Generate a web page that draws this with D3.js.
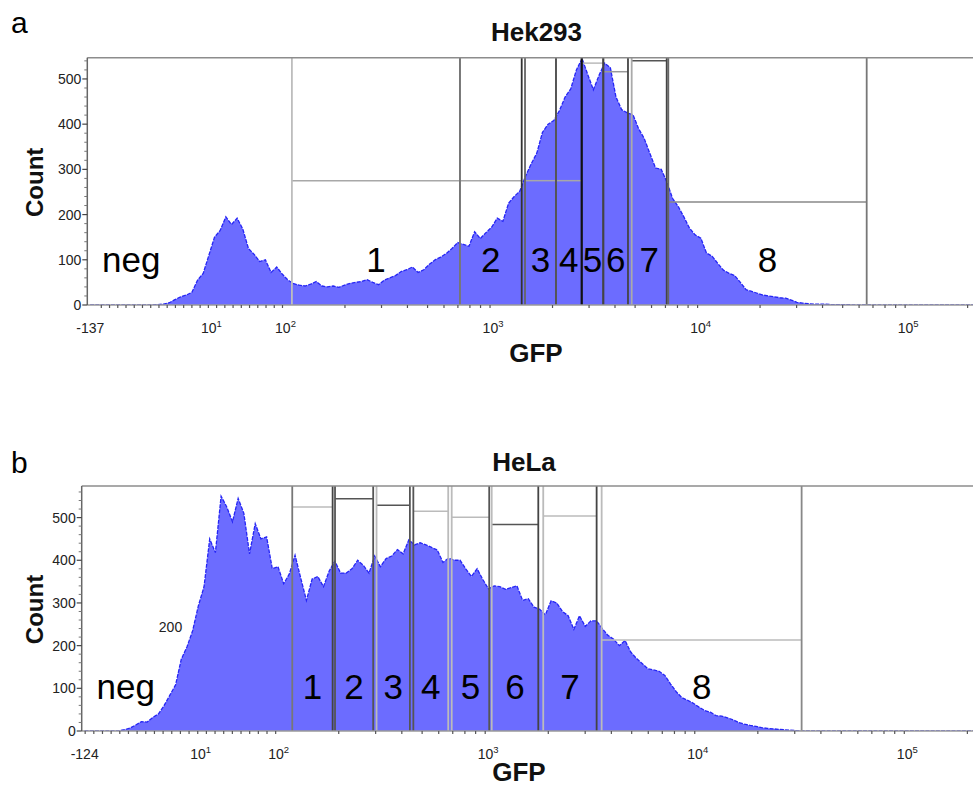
<!DOCTYPE html>
<html>
<head>
<meta charset="utf-8">
<script src="https://cdn.jsdelivr.net/npm/d3@7"></script>
<style>
  body { margin: 0; background: #fff; }
  svg { display: block; }
  text { font-family: "Liberation Sans", Arial, Helvetica, sans-serif; }
</style>
</head>
<body>
<svg id="chart" width="973" height="787"></svg>
<script>
// Histogram bins: 160 equal-width bins across the displayed GFP axis.
const BINS = 160;

// Hek293: events per bin
const hekCounts = [
  0,0,0,0,0,0,0,0,0,0,0,0,
  1,2,5,12,18,22,28,55,70,110,150,165,195,178,192,168,125,112,96,100,
  72,84,68,55,47,44,42,46,52,42,40,42,39,44,48,50,52,56,50,45,
  55,60,65,74,78,84,72,78,90,100,106,114,125,138,134,130,162,147,160,172,
  192,185,225,240,252,285,312,336,382,400,408,430,460,478,520,545,510,476,508,535,
  525,460,432,425,421,390,368,335,303,300,272,236,218,195,170,155,148,115,108,92,
  77,70,65,50,34,30,26,22,20,18,16,15,11,6,4,3,2,2,2,1,
  1,1,1,
  0,0,0,0,0,0,0,0,0,0,0,0,0,0,0,0,0,0,0,0,0,0,0,0,0
];

// HeLa: events per bin
const helaCounts = [
  0,0,0,0,0,0,0,
  3,7,14,22,21,32,40,60,84,108,168,197,235,293,338,450,418,550,525,490,
  545,510,415,486,450,455,380,385,345,368,412,358,306,356,362,338,375,398,370,370,
  380,400,388,370,410,385,404,410,425,415,448,436,441,436,430,424,395,405,400,400,
  380,362,380,355,333,340,338,332,336,340,306,310,290,285,272,305,300,280,270,238,
  270,245,258,258,240,224,215,200,212,185,170,158,146,143,140,130,110,92,78,72,
  65,56,48,44,36,35,31,26,20,16,13,11,8,6,5,4,3,2,1,
  0,0,0,0,0,0,0,0,0,0,0,0,0,0,0,0,0,0,0,0,0,0,0,0,0,0,0,0,0,0,0,0,0,0
];

// Axis extents (GFP) and count maxima
const hekRange = [-137, 262144];
const helaRange = [-124, 262144];
const hekYMax = 547;
const helaYMax = 574;
const countTicks = [0, 100, 200, 300, 400, 500];
const decadeExponents = [1, 2, 3, 4, 5];

// Range gates (GFP bounds) and the count level each gate bar is drawn at
const gateNames = ["1", "2", "3", "4", "5", "6", "7", "8"];
const hekGateLo = [111, 716, 1474, 2078, 2764, 3513, 4814, 7226];
const hekGateHi = [716, 1421, 2078, 2764, 3513, 4620, 7099, 65280];
const hekGateLevel = [275, 275, 275, 275, 535, 516, 540, 228];

const helaGateLo = [120, 192, 303, 454, 692, 1074, 1892, 3595];
const helaGateHi = [187, 292, 437, 666, 1045, 1792, 3402, 32360];
const helaGateLevel = [525, 544, 529, 515, 501, 484, 504, 213];

// ---- drawing ----
const svg = d3.select("#chart");
const FONT_FILL = "#111";

// biexponential-style display: linear around zero, logarithmic above 100
function displayPos(v, linUnits) {
  return v >= 100 ? Math.log10(v) : 2 + (v - 100) / linUnits;
}

function drawPanel(cfg) {
  const g = svg.append("g");
  const d0 = displayPos(cfg.range[0], cfg.lin);
  const d1 = displayPos(cfg.range[1], cfg.lin);
  const toBin = v => BINS * (displayPos(v, cfg.lin) - d0) / (d1 - d0);

  const x = d3.scaleLinear().domain([0, BINS]).range([cfg.left, cfg.right]);
  const gx = v => x(toBin(v));
  const y = d3.scaleLinear().domain([0, cfg.yMax]).range([cfg.bottom, cfg.top]);

  const clipId = "clip-" + cfg.id;
  g.append("clipPath").attr("id", clipId)
    .append("rect")
    .attr("x", cfg.left).attr("y", cfg.top - 2)
    .attr("width", cfg.right - cfg.left).attr("height", cfg.bottom - cfg.top + 2);

  const pts = cfg.counts.map((c, i) => ({ bin: i + 0.5, c }));
  const area = d3.area().x(d => x(d.bin)).y0(y(0)).y1(d => y(d.c));
  const line = d3.line().x(d => x(d.bin)).y(d => y(d.c));

  const hist = g.append("g").attr("clip-path", `url(#${clipId})`);
  hist.append("path").datum(pts)
    .attr("d", area)
    .attr("fill", "#6c6cff");
  hist.append("path").datum(pts)
    .attr("d", line)
    .attr("fill", "none")
    .attr("stroke", "#2626f5")
    .attr("stroke-width", 1.3)
    .attr("stroke-dasharray", "4 1.2");

  // gates: full-height edges plus a bar at the gate level
  const gates = gateNames.map((name, i) => ({
    name, lo: cfg.gateLo[i], hi: cfg.gateHi[i], level: cfg.gateLevel[i], i
  }));
  const gateLayer = g.append("g");
  gates.forEach(gt => {
    gateLayer.append("line")
      .attr("x1", gx(gt.lo)).attr("x2", gx(gt.hi))
      .attr("y1", y(gt.level)).attr("y2", y(gt.level))
      .attr("stroke", cfg.barShade[gt.i]).attr("stroke-width", 1.5);
  });
  gates.forEach(gt => {
    [[gt.lo, cfg.edgeShade[gt.i][0]], [gt.hi, cfg.edgeShade[gt.i][1]]].forEach(([v, col]) => {
      gateLayer.append("line")
        .attr("x1", gx(v)).attr("x2", gx(v))
        .attr("y1", cfg.top).attr("y2", cfg.bottom)
        .attr("stroke", col).attr("stroke-width", 1.8);
    });
  });

  // frame
  g.append("line").attr("x1", cfg.left).attr("x2", cfg.right)
    .attr("y1", cfg.top).attr("y2", cfg.top)
    .attr("stroke", "#8c8c8c").attr("stroke-width", 1.5);
  g.append("line").attr("x1", cfg.left).attr("x2", cfg.right)
    .attr("y1", cfg.bottom).attr("y2", cfg.bottom)
    .attr("stroke", "#9a9a9a").attr("stroke-width", 1.5);

  // count axis
  const minor = d3.range(0, cfg.yMax + 1, 20).filter(v => v % 100 !== 0);
  const yAxis = g.append("g");
  yAxis.append("line").attr("x1", cfg.left).attr("x2", cfg.left)
    .attr("y1", cfg.top).attr("y2", cfg.bottom)
    .attr("stroke", "#666").attr("stroke-width", 1.5);
  yAxis.selectAll(".ymin").data(minor).join("line")
    .attr("x1", cfg.left - 3).attr("x2", cfg.left)
    .attr("y1", d => y(d)).attr("y2", d => y(d))
    .attr("stroke", "#777").attr("stroke-width", 1);
  yAxis.selectAll(".ymaj").data(countTicks).join("line")
    .attr("x1", cfg.left - 5).attr("x2", cfg.left)
    .attr("y1", d => y(d)).attr("y2", d => y(d))
    .attr("stroke", "#444").attr("stroke-width", 1.2);
  yAxis.selectAll(".ylab").data(countTicks).join("text")
    .attr("x", cfg.left - 6).attr("y", d => y(d))
    .attr("dy", "0.36em")
    .attr("text-anchor", "end")
    .attr("font-size", 14)
    .attr("fill", "#222")
    .text(d => d);

  // GFP axis ticks
  const linTicks = d3.range(-120, 100, 10).filter(v => v > cfg.range[0]);
  const logTicks = [];
  [2, 3, 4, 5].forEach(k => {
    for (let m = 1; m <= 9; m++) {
      const v = m * Math.pow(10, k);
      if (v < cfg.range[1]) logTicks.push(v);
    }
  });
  const xAxis = g.append("g");
  xAxis.selectAll(".xmin").data(linTicks.concat(logTicks)).join("line")
    .attr("x1", d => gx(d)).attr("x2", d => gx(d))
    .attr("y1", cfg.bottom).attr("y2", cfg.bottom + 3)
    .attr("stroke", "#555").attr("stroke-width", 1.2);

  const labelY = cfg.bottom + 28;
  xAxis.append("text")
    .attr("x", cfg.left + 3).attr("y", labelY)
    .attr("text-anchor", "middle").attr("font-size", 14).attr("fill", "#222")
    .text(String(cfg.range[0]));
  const dec = xAxis.selectAll(".xlab").data(decadeExponents).join("text")
    .attr("x", d => gx(Math.pow(10, d)) + 3).attr("y", labelY)
    .attr("text-anchor", "middle").attr("font-size", 14).attr("fill", "#222");
  dec.append("tspan").text("10");
  dec.append("tspan").attr("font-size", 9.5).attr("dy", -6).text(d => d);

  // gate names and the negative region
  g.selectAll(".gname").data(gates).join("text")
    .attr("x", d => x((toBin(d.lo) + toBin(d.hi)) / 2))
    .attr("y", cfg.nameBaseline)
    .attr("text-anchor", "middle")
    .attr("font-size", 35)
    .attr("fill", "#000")
    .text(d => d.name);
  g.append("text")
    .attr("x", cfg.left + 44).attr("y", cfg.nameBaseline)
    .attr("text-anchor", "middle").attr("font-size", 35).attr("fill", "#000")
    .text("neg");

  // titles
  g.append("text").attr("x", cfg.titleX).attr("y", cfg.titleY)
    .attr("text-anchor", "middle").attr("font-size", 26).attr("font-weight", "bold")
    .attr("fill", FONT_FILL).text(cfg.title);
  g.append("text").attr("x", cfg.gfpX).attr("y", cfg.gfpY)
    .attr("text-anchor", "middle").attr("font-size", 26).attr("font-weight", "bold")
    .attr("fill", FONT_FILL).text("GFP");
  g.append("text")
    .attr("transform", `translate(${42.5},${(cfg.top + cfg.bottom) / 2 + 1}) rotate(-90)`)
    .attr("text-anchor", "middle").attr("font-size", 24).attr("font-weight", "bold")
    .attr("fill", FONT_FILL).text("Count");
  g.append("text").attr("x", 11).attr("y", cfg.letterY)
    .attr("font-size", 30).attr("fill", "#000").text(cfg.letter);

  return { g, x, y, gx };
}

drawPanel({
  id: "hek", title: "Hek293", letter: "a", letterY: 33,
  counts: hekCounts, range: hekRange, lin: 252, yMax: hekYMax,
  left: 87.3, right: 992, top: 57.7, bottom: 305,
  gateLo: hekGateLo, gateHi: hekGateHi, gateLevel: hekGateLevel,
  edgeShade: [["#bdbdbd", "#777"], ["#777", "#333"], ["#666", "#555"], ["#555", "#111"],
              ["#111", "#444"], ["#444", "#444"], ["#aaa", "#444"], ["#666", "#777"]],
  barShade: ["#a8a8a8", "#a8a8a8", "#a8a8a8", "#a8a8a8", "#bbb", "#999", "#555", "#888"],
  nameBaseline: 272, titleX: 536.5, titleY: 40.5, gfpX: 536, gfpY: 362
});

const hela = drawPanel({
  id: "hela", title: "HeLa", letter: "b", letterY: 473,
  counts: helaCounts, range: helaRange, lin: 242, yMax: helaYMax,
  left: 81.7, right: 992, top: 486, bottom: 731,
  gateLo: helaGateLo, gateHi: helaGateHi, gateLevel: helaGateLevel,
  edgeShade: [["#777", "#444"], ["#555", "#555"], ["#bbb", "#555"], ["#555", "#bbb"],
              ["#bbb", "#555"], ["#bbb", "#444"], ["#bbb", "#444"], ["#bbb", "#888"]],
  barShade: ["#bbb", "#555", "#555", "#bbb", "#bbb", "#555", "#bbb", "#bbb"],
  nameBaseline: 698.5, titleX: 524, titleY: 470.5, gfpX: 519, gfpY: 781
});

// stray count label inside the HeLa plot
hela.g.append("text")
  .attr("x", 170.5).attr("y", 631.5)
  .attr("text-anchor", "middle").attr("font-size", 14).attr("fill", "#222")
  .text("200");
</script>
</body>
</html>
